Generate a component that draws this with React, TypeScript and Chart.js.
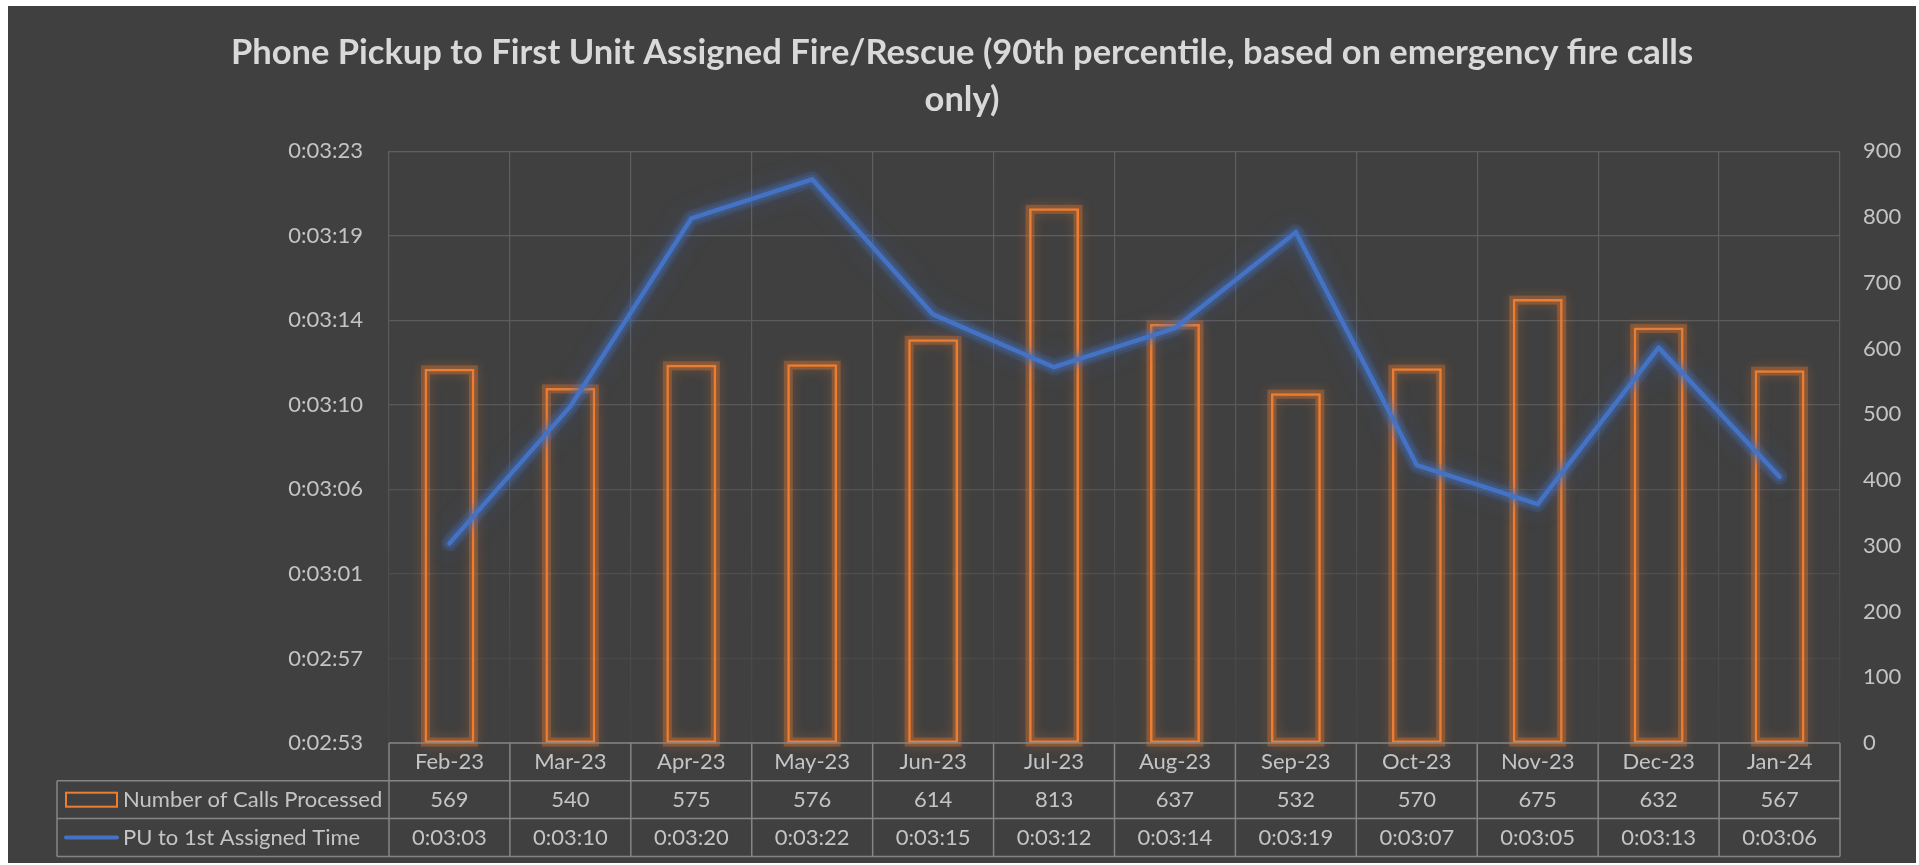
import React, { useEffect, useRef } from 'react';
import { Chart, registerables } from 'chart.js';

Chart.register(...registerables);

// ---------- data ----------
const months = ['Feb-23', 'Mar-23', 'Apr-23', 'May-23', 'Jun-23', 'Jul-23', 'Aug-23', 'Sep-23', 'Oct-23', 'Nov-23', 'Dec-23', 'Jan-24'];
const callsProcessed = [569, 540, 575, 576, 614, 813, 637, 532, 570, 675, 632, 567];
const puToAssignedSeconds = [183, 190, 199.6, 201.6, 194.7, 192, 194, 198.9, 187, 185, 193, 186.4];
// left axis tick values in seconds (0:02:53 ... 0:03:23)
const timeAxisTicks = [172.8, 177.12, 181.44, 185.76, 190.08, 194.4, 198.72, 203.04];
const countAxisMin = 0;
const countAxisMax = 900;
const countAxisStep = 100;
const titleLines = ['Phone Pickup to First Unit Assigned Fire/Rescue (90th percentile, based on emergency fire calls', 'only)'];
const seriesNames = ['Number of Calls Processed', 'PU to 1st Assigned Time'];

// ---------- styles ----------
const BG = '#404040';
const ORANGE = '#ED7D31';
const BLUE = '#4472C4';
const TICK_COLOR = '#C4C4C4';
const TITLE_COLOR = '#D9D9D9';
const TABLE_LINE = '#858585';
const FONT = 'Lato, "Open Sans", sans-serif';
const TEXT_SIZE = 22;
const CANVAS_W = 1908;
const CANVAS_H = 857;

function fmtTime(sec: number): string {
  const s = Math.round(sec);
  const h = Math.floor(s / 3600);
  const m = Math.floor((s % 3600) / 60);
  const ss = s % 60;
  return `${h}:${String(m).padStart(2, '0')}:${String(ss).padStart(2, '0')}`;
}

let gradCache: { key: string; grad: CanvasGradient } | null = null;
function gridColor(c: any) {
  const chart = c.chart;
  const area = chart.chartArea;
  if (!area) return '#5a5a5a';
  const key = `${area.top}-${area.bottom}`;
  if (gradCache && gradCache.key === key) return gradCache.grad;
  const g = chart.ctx.createLinearGradient(0, area.top, 0, area.bottom);
  g.addColorStop(0, '#606060');
  g.addColorStop(0.45, '#595959');
  g.addColorStop(0.8, '#4b4b4b');
  g.addColorStop(1, '#444444');
  gradCache = { key, grad: g };
  return g;
}

const bgPlugin = {
  id: 'bgFill',
  beforeDraw(chart: any) {
    const { ctx, width, height } = chart;
    ctx.save();
    ctx.fillStyle = BG;
    ctx.fillRect(0, 0, width, height);
    ctx.restore();
  },
};

const glowPlugin = {
  id: 'glow',
  beforeDatasetDraw(chart: any, args: any) {
    const { ctx, chartArea } = chart;
    const ds = chart.data.datasets[args.index];
    ctx.save();
    if (ds.type === 'bar') {
      ctx.shadowColor = 'rgba(237,125,49,0.75)';
      ctx.shadowBlur = 12;
      ctx.strokeStyle = 'rgba(237,125,49,0.33)';
      ctx.lineWidth = 9;
      args.meta.data.forEach((el: any) => {
        const { x, y, base, width } = el.getProps(['x', 'y', 'base', 'width'], true);
        ctx.strokeRect(x - width / 2 + 1, y + 1, width - 2, base - y - 2);
      });
      ctx.restore();
    } else {
      ctx.beginPath();
      ctx.rect(chartArea.left, chartArea.top, chartArea.right - chartArea.left, chartArea.bottom - chartArea.top);
      ctx.clip();
      ctx.lineJoin = 'round';
      ctx.lineCap = 'round';
      const pts = args.meta.data.map((el: any) => el.getProps(['x', 'y'], true));
      const path = () => {
        ctx.beginPath();
        pts.forEach((p: any, i: number) => { if (i === 0) ctx.moveTo(p.x, p.y); else ctx.lineTo(p.x, p.y); });
      };
      ctx.shadowColor = 'rgba(68,114,196,0.9)';
      ctx.shadowBlur = 22;
      ctx.strokeStyle = 'rgba(68,114,196,0.18)';
      ctx.lineWidth = 16;
      path();
      ctx.stroke();
      ctx.shadowBlur = 8;
      ctx.strokeStyle = 'rgba(68,114,196,0.22)';
      ctx.lineWidth = 10;
      path();
      ctx.stroke();
      ctx.restore();
    }
  },
};

const tablePlugin = {
  id: 'dataTable',
  afterDraw(chart: any) {
    const { ctx, chartArea } = chart;
    const xs = chart.scales.x;
    const n = months.length;
    const colW = (chartArea.right - chartArea.left) / n;
    const rowH = 37.8;
    const top = chartArea.bottom;
    const r1 = top + rowH;
    const r2 = top + rowH * 2;
    const r3 = top + rowH * 3;
    const legendLeft = 49;

    ctx.save();
    ctx.strokeStyle = TABLE_LINE;
    ctx.lineWidth = 1.5;
    ctx.beginPath();
    ctx.moveTo(chartArea.left, top); ctx.lineTo(chartArea.right, top);
    ctx.moveTo(legendLeft, r1); ctx.lineTo(chartArea.right, r1);
    ctx.moveTo(legendLeft, r2); ctx.lineTo(chartArea.right, r2);
    ctx.moveTo(legendLeft, r3); ctx.lineTo(chartArea.right, r3);
    ctx.moveTo(legendLeft, r1); ctx.lineTo(legendLeft, r3);
    for (let i = 0; i <= n; i++) {
      const x = chartArea.left + i * colW;
      ctx.moveTo(x, top); ctx.lineTo(x, r3);
    }
    ctx.stroke();

    // legend keys
    const c1 = (r1 + r2) / 2;
    const c2 = (r2 + r3) / 2;
    ctx.strokeStyle = ORANGE;
    ctx.lineWidth = 2;
    ctx.strokeRect(58, c1 - 7, 51, 14);
    ctx.strokeStyle = BLUE;
    ctx.lineWidth = 4;
    ctx.lineCap = 'round';
    ctx.beginPath();
    ctx.moveTo(58, c2); ctx.lineTo(109, c2);
    ctx.stroke();

    // texts
    ctx.fillStyle = TICK_COLOR;
    ctx.font = `${TEXT_SIZE}px ${FONT}`;
    ctx.textBaseline = 'middle';
    ctx.textAlign = 'left';
    ctx.fillText(seriesNames[0], 115, c1);
    ctx.fillText(seriesNames[1], 115, c2);
    ctx.textAlign = 'center';
    for (let i = 0; i < n; i++) {
      const x = xs.getPixelForValue(i);
      ctx.fillText(String(callsProcessed[i]), x, c1);
      ctx.fillText(fmtTime(puToAssignedSeconds[i]), x, c2);
    }
    ctx.restore();
  },
};

export default function App() {
  const ref = useRef<HTMLCanvasElement | null>(null);

  useEffect(() => {
    if (!ref.current) return;
    const chart = new Chart(ref.current, {
      data: {
        labels: months,
        datasets: [
          {
            type: 'line' as const,
            label: seriesNames[1],
            data: puToAssignedSeconds,
            yAxisID: 'y',
            borderColor: BLUE,
            backgroundColor: BLUE,
            borderWidth: 4.5,
            pointRadius: 0,
            tension: 0,
            borderCapStyle: 'round' as const,
            borderJoinStyle: 'round' as const,
            order: 0,
          },
          {
            type: 'bar' as const,
            label: seriesNames[0],
            data: callsProcessed,
            yAxisID: 'y1',
            backgroundColor: 'rgba(0,0,0,0)',
            borderColor: ORANGE,
            borderWidth: 2.5,
            borderSkipped: false,
            barPercentage: 0.413,
            categoryPercentage: 1,
            order: 1,
          },
        ],
      },
      options: {
        responsive: false,
        maintainAspectRatio: false,
        animation: false,
        devicePixelRatio: 1,
        layout: { padding: 0 },
        plugins: {
          legend: { display: false },
          tooltip: { enabled: false },
          title: {
            display: true,
            text: titleLines,
            color: TITLE_COLOR,
            font: { family: FONT, size: 34.5, weight: 'bold', lineHeight: 1.35 },
            padding: { top: 24, bottom: 28 },
          },
        },
        scales: {
          x: {
            type: 'category',
            offset: true,
            grid: { offset: true, color: gridColor, drawTicks: false, lineWidth: 1.2 },
            border: { display: false },
            ticks: { color: TICK_COLOR, font: { family: FONT, size: TEXT_SIZE }, padding: 6, maxRotation: 0, autoSkip: false },
            afterFit: (s: any) => { s.height = 120; },
          },
          y: {
            position: 'left',
            min: timeAxisTicks[0],
            max: timeAxisTicks[timeAxisTicks.length - 1],
            afterBuildTicks: (s: any) => { s.ticks = timeAxisTicks.map((v) => ({ value: v })); },
            ticks: { color: TICK_COLOR, font: { family: FONT, size: TEXT_SIZE }, padding: 26, callback: (v: any) => fmtTime(Number(v)) },
            grid: { color: gridColor, drawTicks: false, lineWidth: 1.2 },
            border: { display: false },
            afterFit: (s: any) => { s.width = 381; },
          },
          y1: {
            position: 'right',
            min: countAxisMin,
            max: countAxisMax,
            ticks: { stepSize: countAxisStep, color: TICK_COLOR, font: { family: FONT, size: TEXT_SIZE }, padding: 23 },
            grid: { display: false, drawTicks: false },
            border: { display: false },
            afterFit: (s: any) => { s.width = 76; },
          },
        },
      },
      plugins: [bgPlugin, glowPlugin, tablePlugin],
    } as any);
    return () => chart.destroy();
  }, []);

  return (
    <div style={{ position: 'absolute', left: 8, top: 6, width: CANVAS_W, height: CANVAS_H }}>
      <canvas ref={ref} width={CANVAS_W} height={CANVAS_H} style={{ display: 'block', width: CANVAS_W, height: CANVAS_H }} />
    </div>
  );
}
